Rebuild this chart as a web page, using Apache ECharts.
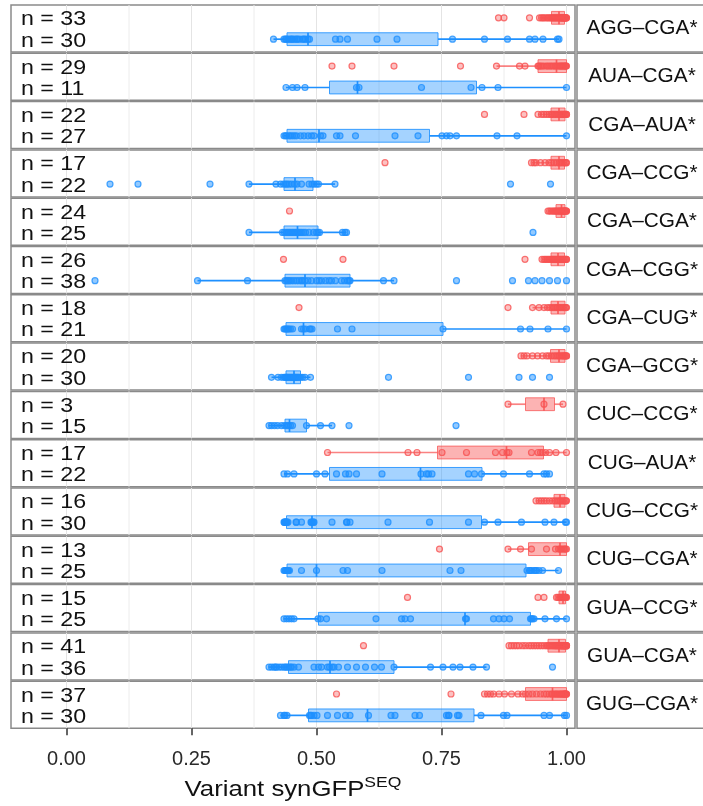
<!DOCTYPE html>
<html>
<head>
<meta charset="utf-8">
<script src="https://cdn.jsdelivr.net/npm/echarts@6/dist/echarts.min.js"></script>
<style>
  html, body { margin: 0; padding: 0; background: #fff; }
  #chart { width: 703px; height: 806px; }
</style>
</head>
<body>
<div id="chart"></div>
<script>
// Codon-pair variants, one facet per pair (top to bottom)
const facets = [
  'AGG–CGA*', 'AUA–CGA*', 'CGA–AUA*', 'CGA–CCG*', 'CGA–CGA*',
  'CGA–CGG*', 'CGA–CUG*', 'CGA–GCG*', 'CUC–CCG*', 'CUG–AUA*',
  'CUG–CCG*', 'CUG–CGA*', 'GUA–CCG*', 'GUA–CGA*', 'GUG–CGA*'
];

// group sizes (upper red row, lower blue row)
const nRed  = [33, 29, 22, 17, 24, 26, 18, 20, 3, 17, 16, 13, 15, 41, 37];
const nBlue = [30, 11, 27, 22, 25, 38, 21, 30, 15, 22, 30, 25, 25, 36, 30];

// box summaries: [lower whisker, Q1, median, Q3, upper whisker]
const redBoxes = [
  [0.946, 0.970, 0.985, 0.996, 1.0],
  [0.860, 0.943, 0.980, 1.000, 1.0],
  [0.943, 0.969, 0.985, 0.997, 1.0],
  [0.930, 0.969, 0.985, 0.996, 1.0],
  [0.963, 0.979, 0.990, 0.997, 1.0],
  [0.951, 0.969, 0.983, 0.996, 1.0],
  [0.932, 0.969, 0.983, 0.997, 1.0],
  [0.909, 0.968, 0.985, 0.997, 1.0],
  [0.883, 0.918, 0.955, 0.976, 0.993],
  [0.522, 0.742, 0.880, 0.954, 1.0],
  [0.939, 0.975, 0.987, 0.997, 1.0],
  [0.883, 0.924, 0.987, 1.000, 1.0],
  [0.980, 0.985, 0.993, 0.998, 1.0],
  [0.912, 0.963, 0.985, 0.998, 1.0],
  [0.836, 0.918, 0.972, 1.000, 1.0]
];
const blueBoxes = [
  [0.414, 0.441, 0.483, 0.743, 0.985],
  [0.439, 0.526, 0.582, 0.820, 1.0],
  [0.435, 0.441, 0.505, 0.726, 1.0],
  [0.365, 0.435, 0.457, 0.493, 0.537],
  [0.365, 0.435, 0.462, 0.503, 0.560],
  [0.262, 0.437, 0.477, 0.567, 0.655],
  [0.435, 0.439, 0.474, 0.753, 1.0],
  [0.410, 0.439, 0.455, 0.468, 0.488],
  [0.405, 0.437, 0.446, 0.480, 0.531],
  [0.435, 0.526, 0.708, 0.831, 0.966],
  [0.435, 0.440, 0.491, 0.830, 1.0],
  [0.435, 0.441, 0.500, 0.919, 0.984],
  [0.435, 0.504, 0.797, 0.928, 1.0],
  [0.405, 0.444, 0.527, 0.655, 0.840],
  [0.428, 0.484, 0.602, 0.815, 1.0]
];

// individual measurements
const redPoints = [
  [0.864, 0.875, 0.926, 0.946, 0.95, 0.953, 0.956, 0.96, 0.963, 0.966, 0.969, 0.971, 0.973, 0.975, 0.977, 0.979, 0.981, 0.983, 0.985, 0.987, 0.988, 0.99, 0.991, 0.992, 0.993, 0.994, 0.995, 0.996, 0.997, 0.998, 0.999, 1.0, 1.0],
  [0.531, 0.571, 0.655, 0.788, 0.86, 0.906, 0.917, 0.943, 0.945, 0.948, 0.951, 0.955, 0.96, 0.963, 0.967, 0.97, 0.974, 0.977, 0.98, 0.983, 0.986, 0.988, 0.99, 0.992, 0.994, 0.996, 0.998, 0.999, 1.0],
  [0.836, 0.915, 0.943, 0.95, 0.955, 0.96, 0.965, 0.969, 0.972, 0.975, 0.978, 0.981, 0.984, 0.987, 0.989, 0.991, 0.993, 0.995, 0.997, 0.998, 1.0, 1.0],
  [0.637, 0.93, 0.935, 0.939, 0.948, 0.957, 0.965, 0.97, 0.975, 0.98, 0.985, 0.988, 0.991, 0.994, 0.997, 0.999, 1.0],
  [0.446, 0.963, 0.966, 0.969, 0.972, 0.975, 0.977, 0.979, 0.981, 0.983, 0.985, 0.987, 0.988, 0.99, 0.991, 0.993, 0.994, 0.995, 0.996, 0.997, 0.998, 0.999, 1.0, 1.0],
  [0.434, 0.553, 0.917, 0.951, 0.955, 0.958, 0.961, 0.964, 0.967, 0.97, 0.972, 0.974, 0.976, 0.978, 0.98, 0.982, 0.984, 0.986, 0.988, 0.99, 0.992, 0.994, 0.996, 0.998, 1.0, 1.0],
  [0.465, 0.883, 0.932, 0.945, 0.955, 0.962, 0.967, 0.971, 0.975, 0.979, 0.982, 0.985, 0.988, 0.991, 0.994, 0.997, 0.999, 1.0],
  [0.909, 0.915, 0.921, 0.932, 0.942, 0.952, 0.96, 0.965, 0.97, 0.975, 0.979, 0.983, 0.986, 0.989, 0.992, 0.994, 0.996, 0.998, 1.0, 1.0],
  [0.883, 0.955, 0.993],
  [0.522, 0.683, 0.701, 0.751, 0.8, 0.858, 0.872, 0.881, 0.885, 0.93, 0.943, 0.948, 0.952, 0.958, 0.966, 0.979, 1.0],
  [0.939, 0.945, 0.95, 0.955, 0.96, 0.966, 0.972, 0.977, 0.981, 0.985, 0.988, 0.991, 0.994, 0.997, 0.999, 1.0],
  [0.746, 0.883, 0.908, 0.93, 0.96, 0.978, 0.984, 0.987, 0.99, 0.993, 0.996, 0.998, 1.0],
  [0.682, 0.943, 0.955, 0.98, 0.983, 0.986, 0.988, 0.99, 0.992, 0.994, 0.996, 0.997, 0.998, 0.999, 1.0],
  [0.594, 0.885, 0.89, 0.895, 0.9, 0.905, 0.912, 0.918, 0.925, 0.93, 0.935, 0.94, 0.945, 0.95, 0.955, 0.96, 0.963, 0.966, 0.969, 0.972, 0.975, 0.977, 0.979, 0.981, 0.983, 0.985, 0.987, 0.988, 0.99, 0.991, 0.992, 0.993, 0.994, 0.995, 0.996, 0.997, 0.998, 0.999, 1.0, 1.0, 1.0],
  [0.54, 0.769, 0.836, 0.842, 0.848, 0.854, 0.865, 0.876, 0.89, 0.903, 0.912, 0.918, 0.925, 0.932, 0.94, 0.948, 0.955, 0.96, 0.965, 0.97, 0.972, 0.975, 0.978, 0.98, 0.982, 0.985, 0.987, 0.989, 0.991, 0.993, 0.995, 0.996, 0.997, 0.998, 0.999, 1.0, 1.0]
];
const bluePoints = [
  [0.414, 0.435, 0.438, 0.44, 0.443, 0.447, 0.45, 0.452, 0.456, 0.46, 0.462, 0.466, 0.472, 0.475, 0.478, 0.483, 0.486, 0.538, 0.547, 0.562, 0.621, 0.661, 0.772, 0.836, 0.882, 0.926, 0.937, 0.953, 0.982, 0.985],
  [0.439, 0.452, 0.461, 0.477, 0.58, 0.585, 0.71, 0.809, 0.831, 0.863, 1.0],
  [0.435, 0.438, 0.44, 0.445, 0.448, 0.452, 0.456, 0.46, 0.468, 0.475, 0.483, 0.49, 0.495, 0.508, 0.513, 0.54, 0.547, 0.578, 0.657, 0.703, 0.751, 0.76, 0.767, 0.78, 0.861, 0.901, 1.0],
  [0.087, 0.143, 0.287, 0.365, 0.419, 0.428, 0.434, 0.438, 0.441, 0.445, 0.45, 0.456, 0.461, 0.47, 0.485, 0.491, 0.495, 0.5, 0.504, 0.537, 0.888, 0.968],
  [0.365, 0.432, 0.436, 0.44, 0.443, 0.446, 0.449, 0.452, 0.455, 0.458, 0.461, 0.464, 0.467, 0.47, 0.474, 0.478, 0.485, 0.494, 0.5, 0.503, 0.506, 0.552, 0.557, 0.56, 0.933],
  [0.057, 0.262, 0.362, 0.437, 0.44, 0.443, 0.446, 0.45, 0.455, 0.46, 0.465, 0.47, 0.472, 0.477, 0.483, 0.49, 0.5, 0.505, 0.51, 0.518, 0.525, 0.53, 0.538, 0.55, 0.556, 0.562, 0.565, 0.567, 0.634, 0.655, 0.78, 0.892, 0.924, 0.937, 0.951, 0.966, 0.982, 1.0],
  [0.435, 0.437, 0.439, 0.441, 0.443, 0.445, 0.448, 0.452, 0.47, 0.474, 0.478, 0.486, 0.488, 0.491, 0.542, 0.571, 0.753, 0.908, 0.927, 0.963, 1.0],
  [0.41, 0.423, 0.43, 0.435, 0.437, 0.439, 0.44, 0.441, 0.443, 0.445, 0.447, 0.449, 0.451, 0.453, 0.455, 0.456, 0.457, 0.459, 0.461, 0.463, 0.465, 0.468, 0.472, 0.477, 0.488, 0.644, 0.804, 0.905, 0.932, 0.966],
  [0.405, 0.41, 0.416, 0.422, 0.43, 0.436, 0.44, 0.444, 0.448, 0.452, 0.48, 0.508, 0.531, 0.565, 0.779],
  [0.435, 0.442, 0.455, 0.5, 0.517, 0.54, 0.558, 0.565, 0.58, 0.631, 0.709, 0.72, 0.724, 0.731, 0.804, 0.816, 0.83, 0.874, 0.926, 0.955, 0.96, 0.966],
  [0.435, 0.436, 0.437, 0.438, 0.439, 0.44, 0.441, 0.443, 0.459, 0.46, 0.47, 0.489, 0.49, 0.492, 0.494, 0.495, 0.531, 0.56, 0.561, 0.567, 0.643, 0.726, 0.804, 0.836, 0.863, 0.91, 0.957, 0.975, 0.998, 1.0],
  [0.435, 0.437, 0.438, 0.44, 0.442, 0.443, 0.444, 0.446, 0.47, 0.5, 0.553, 0.562, 0.631, 0.767, 0.789, 0.921, 0.926, 0.927, 0.93, 0.935, 0.938, 0.94, 0.945, 0.952, 0.984],
  [0.435, 0.44, 0.445, 0.45, 0.455, 0.503, 0.508, 0.52, 0.619, 0.67, 0.677, 0.688, 0.798, 0.8, 0.854, 0.865, 0.875, 0.886, 0.928, 0.93, 0.932, 0.935, 0.957, 0.98, 1.0],
  [0.405, 0.41, 0.415, 0.418, 0.42, 0.425, 0.43, 0.435, 0.438, 0.441, 0.444, 0.448, 0.45, 0.455, 0.464, 0.495, 0.504, 0.51, 0.522, 0.526, 0.531, 0.535, 0.544, 0.562, 0.58, 0.598, 0.616, 0.63, 0.655, 0.728, 0.753, 0.773, 0.787, 0.813, 0.84, 0.972],
  [0.428, 0.435, 0.437, 0.441, 0.486, 0.488, 0.49, 0.495, 0.501, 0.522, 0.542, 0.558, 0.567, 0.604, 0.649, 0.657, 0.697, 0.706, 0.76, 0.764, 0.765, 0.782, 0.785, 0.829, 0.874, 0.881, 0.955, 0.966, 0.996, 1.0]
];

// axis ticks and reference lines
const xTicks = [0, 0.25, 0.5, 0.75, 1];
const xMinorLines = [0.125, 0.375, 0.625, 0.875];
const axisTitle = 'Variant synGFP';
const axisTitleSup = 'SEQ';

// ---- layout & styling ----
const FONT = '"Liberation Sans", Arial, Helvetica, sans-serif';
const X_MIN = -0.111, X_MAX = 1.017;
const Y_MIN = 0.4, Y_MAX = 2.6;
const Y_RED = 2, Y_BLUE = 1;
const PANEL = { left: 11, width: 564, top: 5, step: 48.3, height: 47 };
const STRIP = { left: 577, width: 127 };
const BORDER = '#8a8a8a';

const RED = 'rgb(248,82,82)';
const BLUE = 'rgb(30,144,255)';
const STYLE = {
  red:  { whisker: 'rgba(248,82,82,0.72)', fill: 'rgba(248,82,82,0.44)', edge: 'rgba(248,82,82,0.75)', median: 'rgba(248,82,82,0.9)' },
  blue: { whisker: BLUE, fill: 'rgba(30,144,255,0.4)', edge: 'rgba(30,144,255,0.85)', median: BLUE }
};

const chart = echarts.init(document.getElementById('chart'), null, { renderer: 'canvas' });

const grids = [], xAxes = [], yAxes = [], series = [], graphics = [];
const last = facets.length - 1;

facets.forEach((name, i) => {
  const top = PANEL.top + i * PANEL.step;
  grids.push({
    left: PANEL.left, top: top, width: PANEL.width, height: PANEL.height,
    show: true, backgroundColor: '#fff', borderColor: BORDER, borderWidth: 1.5
  });
  const isLast = i === last;
  xAxes.push({
    type: 'value', gridIndex: i, min: X_MIN, max: X_MAX,
    axisLine: { show: false },
    splitLine: { show: false },
    axisTick: isLast
      ? { show: true, customValues: xTicks, length: 7, lineStyle: { color: '#333', width: 1.5 } }
      : { show: false },
    axisLabel: isLast
      ? { show: true, customValues: xTicks, formatter: v => v.toFixed(2), fontSize: 20, fontFamily: FONT, color: '#2a2a2a', margin: 21 }
      : { show: false }
  });
  yAxes.push({ type: 'value', gridIndex: i, min: Y_MIN, max: Y_MAX, show: false });

  // vertical reference lines
  const lineData = xTicks.map(v => [v, 1, 1]).concat(xMinorLines.map(v => [v, 1, 0]));
  series.push({
    type: 'custom', xAxisIndex: i, yAxisIndex: i, silent: true, z: 1,
    encode: { x: 0, y: 1 },
    data: lineData,
    renderItem: (params, api) => {
      const v = api.value(0);
      const a = api.coord([v, Y_MIN]);
      const b = api.coord([v, Y_MAX]);
      return {
        type: 'line',
        shape: { x1: a[0], y1: a[1], x2: b[0], y2: b[1] },
        style: { stroke: api.value(2) ? '#e4e4e4' : '#ececec', lineWidth: 1 }
      };
    }
  });

  // boxes and whiskers
  series.push({
    type: 'custom', xAxisIndex: i, yAxisIndex: i, silent: true, z: 2,
    encode: { x: [1, 2, 3, 4, 5], y: 0 },
    data: [[Y_RED].concat(redBoxes[i]), [Y_BLUE].concat(blueBoxes[i])],
    renderItem: (params, api) => {
      const y = api.value(0);
      const s = y === Y_RED ? STYLE.red : STYLE.blue;
      const lo = api.coord([api.value(1), y]);
      const q1 = api.coord([api.value(2), y]);
      const md = api.coord([api.value(3), y]);
      const q3 = api.coord([api.value(4), y]);
      const hi = api.coord([api.value(5), y]);
      const h = api.size([0, 0.6])[1];
      return {
        type: 'group',
        children: [
          { type: 'line', shape: { x1: lo[0], y1: lo[1], x2: q1[0], y2: q1[1] }, style: { stroke: s.whisker, lineWidth: 1.7 } },
          { type: 'line', shape: { x1: q3[0], y1: q3[1], x2: hi[0], y2: hi[1] }, style: { stroke: s.whisker, lineWidth: 1.7 } },
          { type: 'rect', shape: { x: q1[0], y: q1[1] - h / 2, width: Math.max(q3[0] - q1[0], 0.5), height: h }, style: { fill: s.fill, stroke: s.edge, lineWidth: 1 } },
          { type: 'line', shape: { x1: md[0], y1: md[1] - h / 2, x2: md[0], y2: md[1] + h / 2 }, style: { stroke: s.median, lineWidth: 1.7 } }
        ]
      };
    }
  });

  // individual points
  series.push({
    type: 'scatter', xAxisIndex: i, yAxisIndex: i, z: 3, silent: true,
    symbol: 'circle', symbolSize: 6,
    itemStyle: { color: 'rgba(248,82,82,0.45)', borderColor: RED, borderWidth: 1.2 },
    data: redPoints[i].map(v => [v, Y_RED])
  });
  series.push({
    type: 'scatter', xAxisIndex: i, yAxisIndex: i, z: 3, silent: true,
    symbol: 'circle', symbolSize: 6,
    itemStyle: { color: 'rgba(30,144,255,0.6)', borderColor: BLUE, borderWidth: 1.2 },
    data: bluePoints[i].map(v => [v, Y_BLUE])
  });

  // group-size labels
  series.push({
    type: 'custom', xAxisIndex: i, yAxisIndex: i, silent: true, z: 4,
    encode: { x: 0, y: 1 },
    data: [[-0.091, Y_RED, nRed[i]], [-0.091, Y_BLUE, nBlue[i]]],
    renderItem: (params, api) => {
      const p = api.coord([api.value(0), api.value(1)]);
      return {
        type: 'text', x: p[0], y: p[1] + 2, scaleX: 1.16,
        style: {
          text: 'n = ' + api.value(2), fill: '#111', fontSize: 20, fontFamily: FONT,
          align: 'left', verticalAlign: 'middle', textAlign: 'left', textVerticalAlign: 'middle'
        }
      };
    }
  });

  // facet strip on the right
  graphics.push({
    type: 'rect', z: 10,
    shape: { x: STRIP.left, y: top, width: STRIP.width, height: PANEL.height },
    style: { fill: '#fff', stroke: BORDER, lineWidth: 1.5 }
  });
  graphics.push({
    type: 'text', z: 11,
    x: STRIP.left + 65, y: top + PANEL.height / 2, scaleX: 1.04,
    style: {
      text: name, fill: '#111', fontSize: 20, fontFamily: FONT,
      align: 'center', verticalAlign: 'middle', textAlign: 'center', textVerticalAlign: 'middle'
    }
  });
});

// x-axis title with superscript
graphics.push({
  type: 'text', z: 11,
  x: PANEL.left + PANEL.width / 2, y: 788, scaleX: 1.17,
  style: {
    text: '{a|' + axisTitle + '}{b|' + axisTitleSup + '}',
    align: 'center', verticalAlign: 'middle', textAlign: 'center', textVerticalAlign: 'middle',
    rich: {
      a: { fontSize: 22, fontFamily: FONT, fill: '#111', lineHeight: 26, verticalAlign: 'bottom' },
      b: { fontSize: 15, fontFamily: FONT, fill: '#111', lineHeight: 8, verticalAlign: 'top' }
    }
  }
});

chart.setOption({
  animation: false,
  backgroundColor: '#fff',
  grid: grids,
  xAxis: xAxes,
  yAxis: yAxes,
  series: series,
  graphic: graphics
});
</script>
</body>
</html>
